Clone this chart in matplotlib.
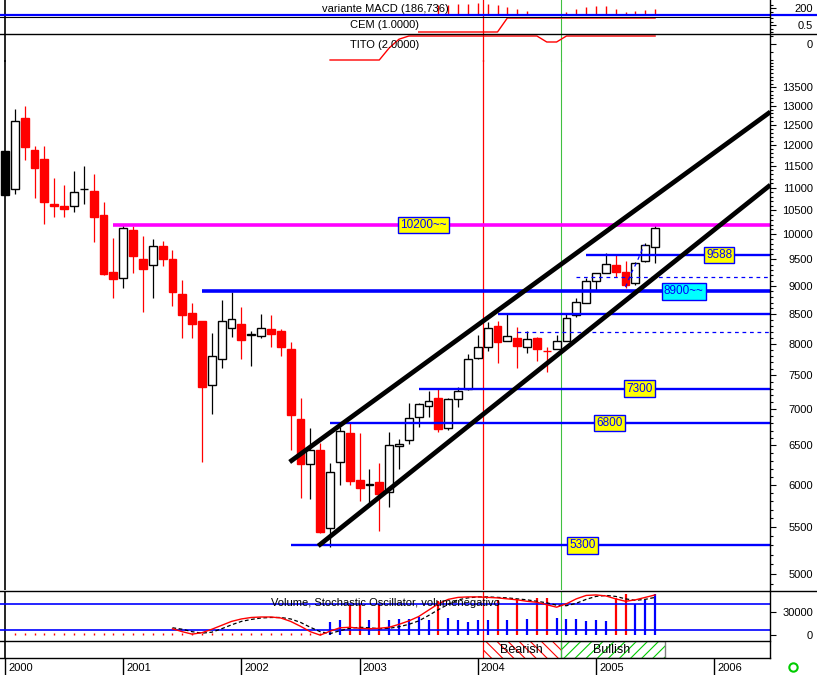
import numpy as np
import matplotlib.pyplot as plt
import matplotlib.ticker as ticker
from matplotlib.patches import Rectangle
from matplotlib.lines import Line2D

plt.rcParams["font.family"] = ["Liberation Sans", "DejaVu Sans"]
plt.rcParams["hatch.linewidth"] = 0.8

# ── monthly candles, Jan 2000 .. Jul 2005 ─────────────────
OPEN = [11850, 10970, 12680, 11880, 11660, 10640, 10600, 10600, 10960, 10925,
        10400, 9260, 9150, 10090, 9510, 9390, 9760, 9510, 8850, 8520,
        8380, 7350, 7755, 8260, 8330, 8150, 8130, 8245, 8210, 7915,
        6860, 6260, 6440, 5490, 6285, 6665, 6055, 6000, 6035, 5910,
        6495, 6570, 6890, 7045, 7160, 6735, 7145, 7295, 7770, 7945,
        8295, 8045, 8095, 7945, 8095, 7885, 7915, 8045, 8485, 8695,
        9090, 9240, 9395, 9260, 9055, 9470, 9745]
HIGH = [11850, 12915, 13000, 11980, 11980, 11220, 11060, 11380, 11500, 11310,
        10680, 9930, 10200, 10170, 9970, 9900, 9870, 9685, 9110, 8695,
        8380, 8175, 8745, 8890, 8620, 8210, 8500, 8485, 8245, 8030,
        7160, 6735, 6535, 6270, 6750, 6805, 6665, 6195, 6270, 6680,
        6585, 7090, 7090, 7265, 7295, 7160, 7325, 7835, 8145, 8360,
        8380, 8500, 8280, 8210, 8110, 7945, 8145, 8500, 8785, 9150,
        9245, 9630, 9590, 9470, 9450, 9825, 10190]
LOW = [10840, 10860, 11640, 10770, 10210, 10360, 10360, 10470, 10640, 9850,
       9200, 8780, 8960, 9240, 8535, 8780, 9375, 8640, 8095, 8095,
       6285, 6930, 7615, 8110, 7755, 7645, 8095, 7945, 7800, 6440,
       5840, 5825, 5440, 5285, 6000, 6000, 5805, 5780, 5460, 5730,
       6195, 6520, 6750, 6890, 6680, 6710, 7030, 7280, 7755, 7880,
       7690, 8040, 7615, 7850, 7720, 7550, 7915, 8040, 8450, 8690,
       8925, 9240, 9165, 8965, 9020, 9450, 9430]
CLOSE = [10840, 12600, 11950, 11450, 10680, 10600, 10530, 10900, 10980, 10360,
         9220, 9130, 10130, 9570, 9320, 9760, 9510, 8890, 8480, 8330,
         7320, 7800, 8380, 8410, 8060, 8160, 8260, 8160, 7945, 6915,
         6260, 6440, 5450, 6155, 6695, 6045, 5960, 6010, 5885, 6505,
         6520, 6875, 7075, 7115, 6720, 7145, 7265, 7755, 7945, 8260,
         8030, 8125, 7960, 8075, 7915, 7880, 8045, 8430, 8710, 9090,
         9240, 9410, 9260, 9020, 9430, 9785, 10130]

# ── support / resistance levels and channel ─────────────
LEVELS = [10200, 9588, 8900, 8500, 7300, 6800, 5300]
LEVEL_START = [11, 59, 20, 50, 42, 33, 29]
DASHED_LEVELS = [9160, 8200]
DASHED_START = [58, 52]
DASH_SEG_X = [63.0, 63.6, 64.1, 64.9]
DASH_SEG_Y = [8980, 9250, 9430, 9790]
CHANNEL_UP_X, CHANNEL_UP_Y = [28.9, 77.7], [6284, 12840]
CHANNEL_LO_X, CHANNEL_LO_Y = [31.8, 77.7], [5294, 11060]
EVENT_RED = 48.5
EVENT_GREEN = 56.4
BULL_END = 67.0

# ── indicator panels ───────────────────────────────────
MACD_IDX = list(range(44, 67))
MACD = [277, 277, 306, 323, 343, 306, 277, 229, 163, 106, 37, 14, 0,
        86, 180, 229, 249, 249, 163, 86, 106, 134, 180]
CEM_IDX = list(range(42, 67))
CEM = [0, 0, 0, 0, 0, 0, 0, 0, 0, 1, 1, 1, 1, 1, 1, 1, 1, 1, 1, 1, 1, 1, 1, 1, 1]
TITO_IDX = list(range(33, 67))
TITO = [-2, -2, -2, -2, -2, -2, -0.5, 0.6, 1, 1, 1, 1, 1, 1, 1, 1, 1, 1, 1, 1,
        1, 1, 0.25, 0.25, 1, 1, 1, 1, 1, 1, 1, 1, 1, 1]

VOL_IDX = list(range(33, 67))
VOLUME = [16500, 19500, 39000, 41000, 19500, 41000, 19500, 21000, 21500, 24000,
          19500, 45000, 22500, 19500, 16500, 19500, 19500, 45500, 19500, 47000,
          21500, 48500, 48000, 22500, 21000, 21000, 18000, 19500, 18000, 48000,
          53000, 41000, 45500, 53000]
VOLNEG_IDX = list(range(1, 33))
VOLNEG = [2500, 2500, 2500, 2500, 2500, 2500, 2500, 2500, 2500, 2500, 2500,
          2500, 2500, 2500, 2500, 2500, 2500, 2500, 2500, 2500, 2500, 2500,
          2500, 2500, 2500, 2500, 2500, 2500, 2500, 2500, 2500, 2500]
STOCH_IDX = list(range(17, 67))
STOCH_K = [25, 19, 14, 17, 24, 32, 40, 45, 48, 49, 49, 47, 40, 30, 19, 12, 20,
           27, 28, 26, 25, 26, 28, 34, 41, 50, 63, 76, 85, 89, 90, 90, 89, 88,
           86, 84, 81, 79, 74, 69, 76, 86, 93, 94, 92, 86, 81, 84, 89, 94]
STOCH_D = [27, 24, 19, 16, 18, 25, 33, 40, 44, 47, 48, 48, 45, 38, 28, 19, 15,
           21, 26, 28, 27, 25, 26, 29, 34, 41, 52, 64, 75, 84, 88, 90, 90, 89,
           88, 86, 84, 81, 78, 73, 72, 77, 85, 91, 93, 91, 86, 83, 85, 89]
STOCH_LINES = [75, 22]

YEARS = [2000, 2001, 2002, 2003, 2004, 2005, 2006]
YEAR_IDX = [0, 12, 24, 36, 48, 60, 72]

# ── layout (pixel based) ──────────────────────────────
W, H = 817, 675
RIGHT = 770
XMIN, XMAX = -5 / 9.85, (RIGHT - 5) / 9.85
RED, BLUE, MAGENTA = "#ff0000", "#0000ff", "#ff00ff"

fig = plt.figure(figsize=(W / 100, H / 100), dpi=100)
fig.patch.set_facecolor("white")


def panel(top, bottom):
    ax = fig.add_axes([0, 1 - bottom / H, RIGHT / W, (bottom - top) / H])
    ax.set_xlim(XMIN, XMAX)
    ax.set_xticks([])
    ax.patch.set_visible(False)
    for sp in ax.spines.values():
        sp.set_visible(False)
    ax.yaxis.tick_right()
    ax.tick_params(axis="y", which="major", direction="out", length=4,
                   width=0.8, labelsize=8, pad=30.96 - 4)
    ax.tick_params(axis="y", which="minor", direction="out", length=2, width=0.8)
    return ax


def right_labels(ax):
    plt.setp(ax.get_yticklabels(), ha="right")


def hline_px(y, x0, x1, color="black", lw=1.0):
    fig.add_artist(Line2D([x0 / W, x1 / W], [1 - y / H, 1 - y / H],
                          color=color, lw=lw))


# ── main price panel ──────────────────────────────────
ax = panel(60, 590)
ax.set_yscale("log")
ax.set_ylim(4839, 14274)
ax.yaxis.set_major_locator(ticker.FixedLocator(np.arange(5000, 13501, 500)))
ax.yaxis.set_minor_locator(ticker.FixedLocator(np.arange(4900, 14201, 100)))
ax.yaxis.set_major_formatter(ticker.FuncFormatter(lambda v, _: f"{int(round(v))}"))
ax.yaxis.set_minor_formatter(ticker.NullFormatter())
right_labels(ax)

for i, (o, h, l, c) in enumerate(zip(OPEN, HIGH, LOW, CLOSE)):
    up = c >= o
    col = "black" if up else RED
    ax.vlines(i, l, h, color=col, lw=0.9, zorder=2)
    if i == 0:
        fc, ec = "black", "black"
    else:
        fc, ec = ("white", "black") if up else (RED, RED)
    ax.add_patch(Rectangle((i - 0.4, min(o, c)), 0.8, max(abs(c - o), 1),
                           facecolor=fc, edgecolor=ec, lw=1.0, zorder=2.5,
                           clip_on=(i != 0)))

for lvl, start in zip(LEVELS, LEVEL_START):
    col = MAGENTA if lvl == 10200 else BLUE
    lw = 2.6 if lvl in (10200, 8900) else 1.7
    ax.plot([start, XMAX], [lvl, lvl], color=col, lw=lw, zorder=3,
            solid_capstyle="butt")

for lvl, start in zip(DASHED_LEVELS, DASHED_START):
    ax.plot([start, XMAX], [lvl, lvl], color=BLUE, lw=0.9, ls=(0, (3, 3)), zorder=3)
ax.plot(DASH_SEG_X, DASH_SEG_Y, color=BLUE, lw=0.9, ls=(0, (3, 3)), zorder=3)

for xs, ys in ((CHANNEL_UP_X, CHANNEL_UP_Y), (CHANNEL_LO_X, CHANNEL_LO_Y)):
    ax.plot(xs, ys, color="black", lw=3.4, zorder=4, solid_capstyle="butt")

label_cfg = {
    10200: ("10200~~", 42.5, "#ffff00"),
    9588:  ("9588", 72.5, "#ffff00"),
    8900:  ("8900~~", 68.9, "#00ffff"),
    7300:  ("7300", 64.4, "#ffff00"),
    6800:  ("6800", 61.4, "#ffff00"),
    5300:  ("5300", 58.6, "#ffff00"),
}
for lvl, (txt, x, fc) in label_cfg.items():
    ax.text(x, lvl, txt, ha="center", va="center", fontsize=8.5, color=BLUE,
            zorder=5, bbox=dict(boxstyle="square,pad=0.18", fc=fc, ec=BLUE, lw=1))

# ── MACD / CEM / TITO strips ──────────────────────────
ax_macd = panel(0, 15)
ax_macd.set_ylim(0, 429)
ax_macd.vlines(MACD_IDX, 0, MACD, color=RED, lw=1)
ax_macd.set_yticks([200])
ax_macd.set_yticklabels(["200"])
ax_macd.yaxis.set_minor_locator(ticker.FixedLocator([100, 300]))
right_labels(ax_macd)
ax_macd.text(0.5, 0.4, "variante MACD (186,736)", transform=ax_macd.transAxes,
             ha="center", va="center", fontsize=8)

ax_cem = panel(15, 34)
ax_cem.set_ylim(-2 / 14, 1 + 3 / 14)
ax_cem.plot(CEM_IDX, CEM, color=RED, lw=1)
ax_cem.set_yticks([0.5])
ax_cem.set_yticklabels(["0.5"])
ax_cem.yaxis.set_minor_locator(ticker.FixedLocator([0, 0.25, 0.75, 1]))
right_labels(ax_cem)
ax_cem.text(0.5, 0.48, "CEM (1.0000)", transform=ax_cem.transAxes,
            ha="center", va="center", fontsize=8)

ax_tito = panel(34, 62)
ax_tito.set_ylim(-2.25, 1.25)
ax_tito.plot(TITO_IDX, TITO, color=RED, lw=1, clip_on=False)
ax_tito.set_yticks([0])
ax_tito.set_yticklabels(["0"])
ax_tito.yaxis.set_minor_locator(ticker.FixedLocator([-2, -1, 1]))
right_labels(ax_tito)
ax_tito.text(0.5, 0.62, "TITO (2.0000)", transform=ax_tito.transAxes,
             ha="center", va="center", fontsize=8)

# ── volume + stochastic panel ─────────────────────────
ax_vol = panel(592, 641)
ax_vol.set_ylim(-6 * 30000 / 23, 43 * 30000 / 23)
ax_vol.vlines(VOLNEG_IDX, 0, VOLNEG, color=RED, lw=1)
vol_cols = [RED if CLOSE[i] < OPEN[i] else BLUE for i in VOL_IDX]
ax_vol.vlines(VOL_IDX, 0, VOLUME, color=vol_cols, lw=1.6)
ax_vol.set_yticks([0, 30000])
ax_vol.set_yticklabels(["0", "30000"])
right_labels(ax_vol)

ax_st = panel(592, 641)
ax_st.set_ylim(0, 100)
ax_st.set_yticks([])
for lv in STOCH_LINES:
    ax_st.axhline(lv, color=BLUE, lw=1.2)
ax_st.plot(STOCH_IDX, STOCH_D, color="black", lw=0.9, ls=(0, (3, 2)))
ax_st.plot(STOCH_IDX, STOCH_K, color=RED, lw=1)
ax_st.text(0.5, 0.78, "Volume, Stochastic Oscillator, volumenegativo",
           transform=ax_st.transAxes, ha="center", va="center", fontsize=8)

# ── bearish / bullish band ────────────────────────────
ax_band = panel(641, 658)
ax_band.set_ylim(0, 1)
ax_band.set_yticks([])
ax_band.add_patch(Rectangle((EVENT_RED, 0), EVENT_GREEN - EVENT_RED, 1,
                            facecolor="white", edgecolor=RED, hatch="\\\\\\", lw=0))
ax_band.add_patch(Rectangle((EVENT_GREEN, 0), BULL_END - EVENT_GREEN, 1,
                            facecolor="white", edgecolor="#00cc00", hatch="///", lw=0))
ax_band.add_patch(Rectangle((EVENT_GREEN, 0), BULL_END - EVENT_GREEN, 1,
                            facecolor="none", edgecolor="#808080", lw=1))
ax_band.text((EVENT_RED + EVENT_GREEN) / 2, 0.45, "Bearish", ha="center",
             va="center", fontsize=9)
ax_band.text(61.6, 0.45, "Bullish", ha="center", va="center", fontsize=9)

# ── date row ──────────────────────────────────────────
ax_date = panel(658, 675)
ax_date.set_ylim(0, 1)
ax_date.set_yticks([])
ax_date.vlines(YEAR_IDX, 0, 1, color="black", lw=1)
for yr, idx in zip(YEARS, YEAR_IDX):
    ax_date.text(idx + 0.3, 0.42, str(yr), ha="left", va="center", fontsize=8)

# ── event lines through all panels ────────────────────
for a in (ax, ax_macd, ax_cem, ax_tito, ax_st, ax_band):
    a.axvline(0, color="black", lw=1.2, zorder=1)
    a.axvline(EVENT_RED, color=RED, lw=0.9, zorder=1.5)
    a.axvline(EVENT_GREEN, color="#40c040", lw=0.8, zorder=1.5)

# ── frame lines ───────────────────────────────────────
hline_px(15, 0, W, BLUE, 1.6)
hline_px(17, 0, RIGHT, "black", 0.8)
hline_px(34, 0, W, "black", 1.0)
hline_px(591, 0, W, "black", 1.0)
hline_px(641, 0, RIGHT, "black", 1.0)
hline_px(658, 0, RIGHT, "black", 1.0)
fig.add_artist(Line2D([RIGHT / W, RIGHT / W], [1 - 658 / H, 1], color="black", lw=1))
fig.add_artist(Line2D([793 / W], [1 - 667 / H], marker="o", mfc="none",
                      mec="#00cc00", ms=6, mew=1.5))

fig.savefig("out.png", dpi=100, facecolor="white")
plt.close(fig)
